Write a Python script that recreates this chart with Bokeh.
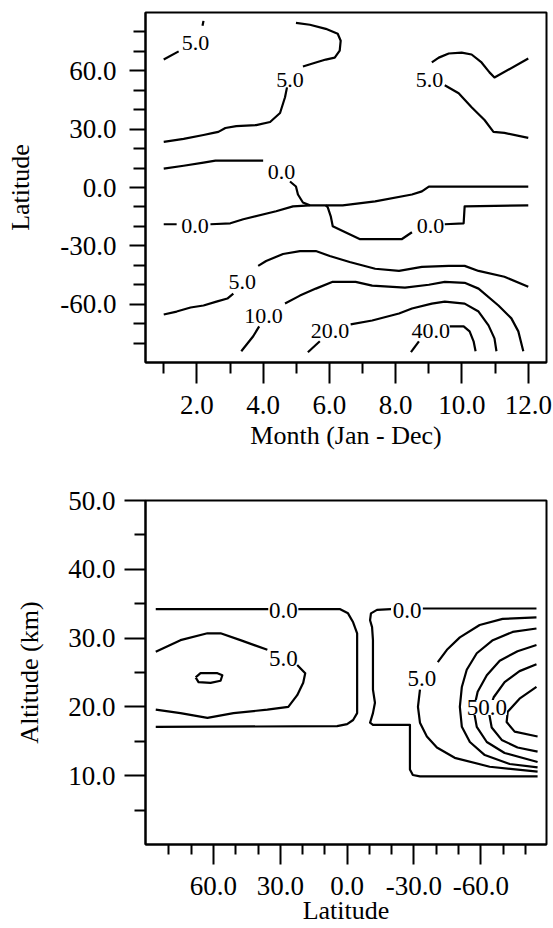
from bokeh.plotting import figure
from bokeh.layouts import column
from bokeh.models import Range1d, FixedTicker
from bokeh.core.properties import value
from bokeh.embed import file_html
from bokeh.resources import INLINE

FONT = "Liberation Serif"

# ---------------- top panel: latitude vs month ----------------
month_ticks = [2, 4, 6, 8, 10, 12]
month_minor = [1, 3, 5, 7, 9, 11]
month_tick_labels = ["2.0", "4.0", "6.0", "8.0", "10.0", "12.0"]
lat_ticks = [-60, -30, 0, 30, 60]
lat_tick_labels = ["-60.0", "-30.0", "0.0", "30.0", "60.0"]
lat_minor = [-80, -70, -50, -40, -20, -10, 10, 20, 40, 50, 70, 80]

# contour segments (month, latitude), broken where the labels sit
c5_nw_month = [[1.0, 1.45], [2.17, 2.2]]
c5_nw_lat = [[65.8, 70.0], [83.2, 85.7]]
c5_n_month = [[1.0, 1.6, 2.2, 2.5, 2.65, 2.86, 3.19, 3.79, 4.21, 4.51, 4.66, 4.72],
              [5.2, 5.59, 5.89, 6.16, 6.31, 6.34, 6.25, 5.89, 5.41, 4.99]]
c5_n_lat = [[23.5, 25.0, 27.0, 28.1, 28.6, 30.6, 31.6, 32.1, 33.7, 38.3, 46.4, 51.5],
            [62.2, 64.3, 65.8, 66.8, 70.4, 75.5, 79.1, 81.6, 83.7, 84.7]]
c5_ne_month = [[9.09, 9.30, 9.60, 9.99, 10.29, 10.59, 10.83, 10.98, 12.0],
               [9.48, 9.90, 10.29, 10.68, 10.95, 11.28, 12.0]]
c5_ne_lat = [[64.3, 66.8, 68.9, 69.4, 68.4, 64.3, 59.2, 56.6, 66.3],
             [52.6, 48.5, 41.3, 34.7, 28.6, 28.1, 25.5]]
c0_n_month = [[1.0, 1.6, 2.2, 2.56, 4.0], [4.81, 4.99, 5.05, 5.2, 5.41]]
c0_n_lat = [[9.7, 11.2, 12.8, 13.8, 13.8], [3.1, 0.5, -3.6, -7.7, -9.2]]
c0_eq_month = [[1.0, 1.39],
               [2.41, 3.01, 3.40, 4.39, 4.90, 5.41, 6.40, 7.38, 8.49, 8.79, 9.0, 12.0]]
c0_eq_lat = [[-18.9, -18.9],
             [-18.9, -18.4, -16.3, -12.2, -9.7, -9.2, -9.2, -7.1, -3.6, -2.0, 0.5, 0.5]]
c0_s_month = [[5.89, 5.95, 6.04, 6.10, 6.40, 6.91, 8.19, 8.49], [9.48, 10.05, 10.08, 12.0]]
c0_s_lat = [[-9.2, -10.2, -14.8, -19.9, -22.4, -26.5, -26.5, -23.0], [-18.9, -18.4, -9.7, -9.2]]
c5_s_month = [[1.0, 1.39, 1.81, 2.2, 2.59, 2.92, 3.10],
              [3.85, 4.09, 4.60, 5.11, 5.59, 6.01, 6.61, 7.38, 8.10, 8.79, 9.60, 10.08, 10.50, 11.28, 12.0]]
c5_s_lat = [[-65.3, -63.8, -61.7, -60.7, -58.7, -57.1, -54.6],
            [-40.3, -37.8, -34.2, -32.7, -32.7, -35.2, -38.3, -41.8, -42.9, -40.8, -40.3, -40.3, -42.9, -45.9, -51.0]]
c10_month = [[3.34, 3.70, 3.88],
             [4.66, 5.11, 5.59, 6.10, 6.79, 7.29, 8.28, 9.0, 9.48, 10.08, 10.50, 11.10, 11.49, 11.70, 11.85]]
c10_lat = [[-84.2, -76.5, -71.4],
           [-59.7, -55.6, -52.0, -48.5, -48.5, -50.5, -51.5, -50.0, -48.5, -49.0, -52.0, -60.7, -67.3, -74.0, -84.2]]
c20_month = [[5.35, 5.71], [6.64, 7.29, 8.10, 8.49, 9.09, 9.48, 10.08, 10.50, 10.80, 10.98, 11.04]]
c20_lat = [[-84.7, -79.1], [-70.4, -68.4, -64.8, -62.2, -59.7, -58.7, -59.7, -63.8, -70.9, -77.6, -84.2]]
c40_month = [[8.46, 8.70], [9.63, 10.05, 10.23, 10.35, 10.41]]
c40_lat = [[-84.7, -79.1], [-71.4, -71.4, -74.0, -79.1, -84.2]]

top_label_text = ["5.0", "5.0", "5.0", "0.0", "0.0", "0.0", "5.0", "10.0", "20.0", "40.0"]
top_label_month = [1.96, 4.81, 9.02, 4.55, 1.94, 9.05, 3.37, 4.01, 6.02, 9.06]
top_label_lat = [74.5, 55.1, 55.1, 7.9, -19.6, -19.6, -48.7, -66.1, -73.7, -74.0]

# ---------------- bottom panel: altitude vs latitude ----------------
blat_ticks = [60, 30, 0, -30, -60]
blat_tick_labels = ["60.0", "30.0", "0.0", "-30.0", "-60.0"]
blat_minor = [80, 70, 50, 40, 20, 10, -10, -20, -40, -50, -70, -80]
alt_ticks = [10, 20, 30, 40, 50]
alt_tick_labels = ["10.0", "20.0", "30.0", "40.0", "50.0"]
alt_minor = [5, 15, 25, 35, 45]

b0_w_lat = [[85.9, 35.4], [21.9, 3.1, -0.4, -2.7, -4.5, -4.5, -2.7, 0.0, 4.5, 85.9]]
b0_w_alt = [[34.2, 34.2], [34.2, 34.2, 33.6, 32.3, 30.7, 19.1, 18.1, 17.5, 17.2, 17.1]]
b0_e_lat = [[-34.0, -85.0],
            [-19.7, -13.4, -10.7, -10.3, -11.2, -11.6, -11.6, -11.6, -12.5, -11.6, -10.3, -11.6,
             -28.2, -28.2, -29.5, -32.7, -85.5]]
b0_e_alt = [[34.3, 34.3],
            [34.2, 34.1, 33.6, 32.6, 31.6, 29.7, 26.8, 22.5, 20.6, 19.1, 17.7, 17.4,
             17.4, 10.9, 10.1, 9.9, 9.9]]
b5_w_lat = [[85.9, 74.8, 62.7, 56.8, 47.9, 35.8],
            [22.4, 18.8, 19.7, 22.4, 26.4, 35.8, 51.0, 62.7, 74.8, 85.9],
            [68.0, 65.8, 58.2, 56.0, 56.8, 61.3, 66.7, 68.0]]
b5_w_alt = [[28.0, 29.7, 30.7, 30.7, 29.7, 28.3],
            [26.1, 24.9, 23.5, 21.7, 20.0, 19.6, 19.1, 18.4, 19.1, 19.6],
            [24.3, 24.9, 24.9, 24.6, 23.8, 23.5, 23.6, 24.3]]
b_s_lat = [[-85.0, -69.8, -59.5, -50.6, -44.8, -40.7],
           [-32.7, -31.8, -32.7, -35.8, -40.3, -48.3, -64.0, -85.5],
           [-85.0, -74.3, -65.4, -58.2, -53.7, -51.5, -50.6, -51.5, -55.1, -61.8, -73.0, -85.5],
           [-85.0, -76.5, -68.5, -62.7, -58.6, -56.8, -58.2, -62.7, -70.7, -85.5],
           [-85.0, -77.4, -70.7, -65.8, -63.6, -64.9, -69.4, -76.5, -85.5],
           [-85.0, -77.4, -72.1, -71.6, -75.2, -85.5]]
b_s_alt = [[33.0, 32.8, 31.9, 30.1, 28.3, 26.5],
           [22.5, 20.0, 17.7, 15.7, 14.1, 12.6, 11.3, 10.6],
           [31.4, 30.9, 29.7, 27.8, 25.4, 22.9, 20.0, 17.1, 14.9, 13.0, 11.7, 11.2],
           [29.0, 28.1, 26.7, 24.6, 22.2, 19.6, 17.1, 14.9, 13.3, 12.0],
           [26.2, 25.2, 23.6, 21.4, 19.3, 17.0, 15.2, 14.1, 13.5],
           [22.9, 21.2, 19.3, 17.8, 16.4, 15.7]]

bot_label_text = ["0.0", "0.0", "5.0", "5.0"]
bot_label_lat = [28.6, -26.9, 28.6, -33.6]
bot_label_alt = [34.0, 34.0, 27.0, 24.1]
bot_big_text = ["50.0"]
bot_big_lat = [-62.7]
bot_big_alt = [19.9]


def style(p, xaxis_label, yaxis_label, xt, xminor, xlab, yt, yminor, ylab,
          x_out, y_out, xlab_standoff, xaxlab_standoff, ylab_standoff, yaxlab_standoff):
    p.grid.visible = False
    p.outline_line_color = "black"
    p.outline_line_width = 2
    p.background_fill_color = "white"
    p.border_fill_color = "white"
    for ax, t, mn, lab, (maj, mi) in ((p.xaxis[0], xt, xminor, xlab, x_out),
                                       (p.yaxis[0], yt, yminor, ylab, y_out)):
        ax.ticker = FixedTicker(ticks=t, minor_ticks=mn)
        ax.major_label_overrides = {k: v for k, v in zip(t, lab)}
        ax.axis_line_color = "black"
        ax.axis_line_width = 2
        ax.major_tick_in = 0
        ax.minor_tick_in = 0
        ax.major_tick_out = maj
        ax.minor_tick_out = mi
        ax.major_tick_line_width = 2
        ax.minor_tick_line_width = 2
        ax.major_tick_line_color = "black"
        ax.minor_tick_line_color = "black"
        ax.major_label_text_font = FONT
        ax.major_label_text_font_size = "27px"
        ax.major_label_text_color = "black"
        ax.axis_label_text_font = FONT
        ax.axis_label_text_font_size = "26px"
        ax.axis_label_text_font_style = "normal"
        ax.axis_label_text_color = "black"
    p.xaxis[0].axis_label = xaxis_label
    p.yaxis[0].axis_label = yaxis_label
    p.xaxis[0].major_label_standoff = xlab_standoff
    p.xaxis[0].axis_label_standoff = xaxlab_standoff
    p.yaxis[0].major_label_standoff = ylab_standoff
    p.yaxis[0].axis_label_standoff = yaxlab_standoff


# ---- top figure ----
p1 = figure(width=553, height=460, x_range=Range1d(0.45, 12.55), y_range=Range1d(-90, 90),
            output_backend="svg", toolbar_location=None,
            min_border_left=141, min_border_right=7, min_border_top=12, min_border_bottom=98)
style(p1, "Month (Jan - Dec)", "Latitude", month_ticks, month_minor, month_tick_labels,
      lat_ticks, lat_minor, lat_tick_labels, (21, 11), (16, 12), 12, 4, 13, 22)

top_xs, top_ys = [], []
for mx, ly in ((c5_nw_month, c5_nw_lat), (c5_n_month, c5_n_lat), (c5_ne_month, c5_ne_lat),
               (c0_n_month, c0_n_lat), (c0_eq_month, c0_eq_lat), (c0_s_month, c0_s_lat),
               (c5_s_month, c5_s_lat), (c10_month, c10_lat), (c20_month, c20_lat),
               (c40_month, c40_lat)):
    top_xs.extend(mx)
    top_ys.extend(ly)
p1.multi_line(xs=top_xs, ys=top_ys, line_color="black", line_width=2.2, line_join="round")
p1.text(x=top_label_month, y=top_label_lat, text=top_label_text, text_font=value(FONT),
        text_font_size="22px", text_align="center", text_baseline="middle", text_color="black")

# ---- bottom figure ----
p2 = figure(width=553, height=468, x_range=Range1d(90.5, -89.5), y_range=Range1d(0, 50),
            output_backend="svg", toolbar_location=None,
            min_border_left=145, min_border_right=7, min_border_top=40, min_border_bottom=84)
style(p2, "Latitude", "Altitude (km)", blat_ticks, blat_minor, blat_tick_labels,
      alt_ticks, alt_minor, alt_tick_labels, (20, 10), (21, 11), 12, -2, 9, 21)

bot_xs, bot_ys = [], []
for lx, ay in ((b0_w_lat, b0_w_alt), (b0_e_lat, b0_e_alt), (b5_w_lat, b5_w_alt), (b_s_lat, b_s_alt)):
    bot_xs.extend(lx)
    bot_ys.extend(ay)
p2.multi_line(xs=bot_xs, ys=bot_ys, line_color="black", line_width=2.2, line_join="round")
p2.text(x=bot_label_lat, y=bot_label_alt, text=bot_label_text, text_font=value(FONT),
        text_font_size="23px", text_align="center", text_baseline="middle", text_color="black")
p2.text(x=bot_big_lat, y=bot_big_alt, text=bot_big_text, text_font=value(FONT),
        text_font_size="23px", text_align="center", text_baseline="middle", text_color="black",
        background_fill_color="white", padding=0)

layout = column(p1, p2, spacing=0)
open("out.html", "w").write(file_html(layout, INLINE))
